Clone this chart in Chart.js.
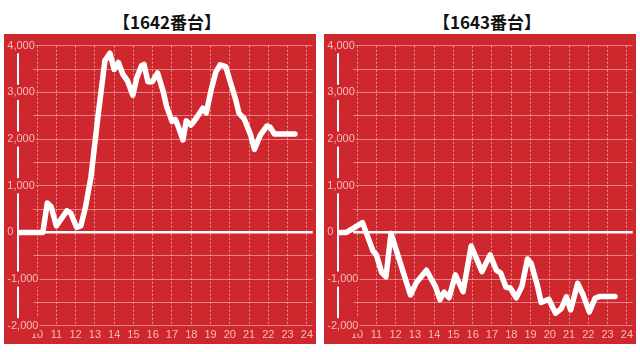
<!DOCTYPE html>
<html>
<head>
<meta charset="utf-8">
<script src="https://cdn.jsdelivr.net/npm/chart.js@4/dist/chart.umd.min.js"></script>
<style>
  body { margin: 0; width: 640px; height: 352px; background: #fff; position: relative; overflow: hidden; }
  .title { position: absolute; top: 9px; width: 334px; text-align: center; line-height: 17px;
           font: bold 17px "Noto Sans CJK JP", sans-serif; color: #111; }
  .panel { position: absolute; top: 34px; width: 312px; height: 310px; background: #cf272e; }
</style>
</head>
<body>
<div class="title" style="left:0px">【1642番台】</div>
<div class="title" style="left:320px">【1643番台】</div>
<div class="panel" style="left:4px"><canvas id="chart1642" width="312" height="310"></canvas></div>
<div class="panel" style="left:324px"><canvas id="chart1643" width="312" height="310"></canvas></div>

<script>
// tick labels
const xTicks = [10, 11, 12, 13, 14, 15, 16, 17, 18, 19, 20, 21, 22, 23, 24];
const yTicks = [-2000, -1500, -1000, -500, 0, 500, 1000, 1500, 2000, 2500, 3000, 3500, 4000];

// 1642番台 : hour -> coin difference
const hours1642 = [9.0, 10.3, 10.53, 10.73, 11.0, 11.55, 11.75, 12.05, 12.27, 12.5, 12.8, 13.2, 13.52,
  13.78, 14.0, 14.22, 14.45, 14.7, 14.97, 15.18, 15.42, 15.55, 15.75, 15.98, 16.25, 16.55, 16.72,
  17.0, 17.17, 17.31, 17.57, 17.74, 17.99, 18.25, 18.6, 18.78, 19.03, 19.28, 19.5, 19.79, 20.05,
  20.31, 20.48, 20.74, 21.08, 21.28, 21.59, 21.93, 22.1, 22.31, 23.38];
const diff1642 = [0, 0, 630, 550, 140, 465, 410, 110, 140, 520, 1200, 2620, 3680,
  3840, 3490, 3640, 3390, 3240, 2940, 3320, 3570, 3600, 3230, 3230, 3420, 3010, 2700,
  2380, 2420, 2290, 1980, 2390, 2300, 2440, 2660, 2560, 3050, 3440, 3590, 3550, 3190,
  2840, 2550, 2440, 2090, 1780, 2090, 2280, 2250, 2110, 2110];

// 1643番台
const hours1643 = [9.0, 9.45, 10.28, 10.82, 11.0, 11.28, 11.5, 11.76, 12.2, 12.77, 13.08, 13.6,
  14.07, 14.3, 14.52, 14.77, 15.1, 15.5, 15.92, 16.48, 16.9, 17.23, 17.45, 17.72, 17.95, 18.26,
  18.55, 18.84, 19.03, 19.37, 19.55, 19.95, 20.3, 20.6, 20.86, 21.08, 21.45, 21.72, 22.05,
  22.35, 22.6, 23.38];
const diff1643 = [0, 0, 210, -390, -480, -860, -950, -20, -600, -1340, -1070, -810,
  -1160, -1440, -1280, -1400, -910, -1270, -290, -840, -480, -810, -870, -1170, -1190, -1400,
  -1160, -570, -660, -1160, -1500, -1430, -1730, -1630, -1380, -1660, -1090, -1330, -1700,
  -1410, -1370, -1370];

const RED = '#cf272e';
const GRID = 'rgba(255,255,255,0.42)';
const LABEL = 'rgba(255,220,220,0.8)';

// the horizontal grid only starts a little right of the axis line
const gridGap = {
  id: 'gridGap',
  beforeDatasetsDraw(chart) {
    const { ctx, chartArea, scales } = chart;
    const x0 = chartArea.left + 1.5;
    const x1 = scales.x.getPixelForValue(9.8);
    ctx.save();
    ctx.fillStyle = RED;
    ctx.fillRect(x0, chartArea.top - 2, x1 - x0, chartArea.bottom - chartArea.top + 4);
    ctx.restore();
  }
};

function makeChart(id, hours, diffs) {
  const points = hours.map((h, i) => ({ x: h, y: diffs[i] }));
  return new Chart(document.getElementById(id), {
    type: 'line',
    data: {
      datasets: [{
        data: points,
        borderColor: '#fff',
        borderWidth: 5.5,
        borderJoinStyle: 'round',
        borderCapStyle: 'round',
        pointRadius: 0,
        tension: 0,
        fill: false
      }]
    },
    options: {
      responsive: false,
      animation: false,
      devicePixelRatio: 1,
      layout: { padding: { top: 11.7, left: 0, right: 0, bottom: 0 } },
      plugins: { legend: { display: false }, tooltip: { enabled: false } },
      scales: {
        x: {
          type: 'linear', min: 9, max: 24.3,
          afterBuildTicks: s => { s.ticks = xTicks.map(v => ({ value: v })); },
          afterFit: s => { s.height = 18.2; },
          grid: { color: 'rgba(255,255,255,0.5)', lineWidth: 1, drawTicks: false },
          border: { display: false, dash: [2, 2] },
          ticks: { color: LABEL, padding: 3, maxRotation: 0, autoSkip: false,
                   font: { family: 'Liberation Sans, Arial, sans-serif', size: 11 } }
        },
        y: {
          min: -2000, max: 4000,
          afterBuildTicks: s => { s.ticks = yTicks.map(v => ({ value: v })); },
          afterFit: s => { s.width = 13.8; },
          grid: {
            color: c => c.tick.value === 0 ? '#fff' : GRID,
            lineWidth: c => c.tick.value === 0 ? 2.5 : 1,
            drawTicks: false
          },
          border: { color: '#fff', width: 2 },
          ticks: {
            z: 1, mirror: true, padding: -10.5, color: LABEL,
            showLabelBackdrop: c => c.tick.value % 1000 === 0,
            backdropColor: RED, backdropPadding: 1,
            font: { family: 'Liberation Sans, Arial, sans-serif', size: 11 },
            callback: v => v % 1000 === 0 ? v.toLocaleString('en-US') : ''
          }
        }
      }
    },
    plugins: [gridGap]
  });
}

makeChart('chart1642', hours1642, diff1642);
makeChart('chart1643', hours1643, diff1643);
</script>
</body>
</html>
